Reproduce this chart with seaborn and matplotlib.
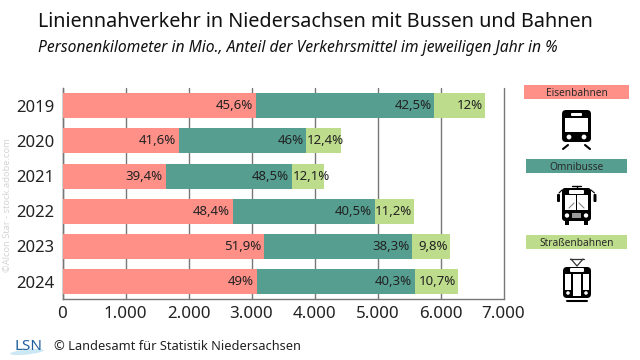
import matplotlib
matplotlib.use("Agg")
import matplotlib.pyplot as plt
import seaborn as sns
from matplotlib.patches import FancyBboxPatch, Rectangle, Circle, Ellipse

years = ["2019", "2020", "2021", "2022", "2023", "2024"]
eisenbahn = [3067, 1849, 1638, 2706, 3194, 3083]
omnibus = [2835, 2021, 2005, 2254, 2354, 2512]
strassenbahn = [804, 551, 503, 624, 603, 683]
pct_eisenbahn = ["45,6%", "41,6%", "39,4%", "48,4%", "51,9%", "49%"]
pct_omnibus = ["42,5%", "46%", "48,5%", "40,5%", "38,3%", "40,3%"]
pct_strassenbahn = ["12%", "12,4%", "12,1%", "11,2%", "9,8%", "10,7%"]
x_ticks = [0, 1000, 2000, 3000, 4000, 5000, 6000, 7000]
x_labels = ["0", "1.000", "2.000", "3.000", "4.000", "5.000", "6.000", "7.000"]

RED = "#FF9088"
TEAL = "#559E90"
GREEN = "#BDDC8C"
GRID = "#777777"
TEXT = "#222222"
LEGEND_TEXT = "#2A2A2A"

sns.set_theme(style="white")
plt.rcParams["font.family"] = "Noto Sans"

fig = plt.figure(figsize=(6.4, 3.6), dpi=100)
ax = fig.add_axes([62.5 / 640, 1 - 299.3 / 360, 441 / 640, 211.3 / 360])

cum_omni = [a + b for a, b in zip(eisenbahn, omnibus)]
cum_all = [a + b for a, b in zip(cum_omni, strassenbahn)]

# stacked look: longest bar first, shorter ones on top
sns.barplot(x=cum_all, y=years, color=GREEN, saturation=1, width=0.71, linewidth=0, ax=ax, zorder=3)
sns.barplot(x=cum_omni, y=years, color=TEAL, saturation=1, width=0.71, linewidth=0, ax=ax, zorder=3)
sns.barplot(x=eisenbahn, y=years, color=RED, saturation=1, width=0.71, linewidth=0, ax=ax, zorder=3)

ax.set_xlim(0, 7000)
ax.set_ylim(5.5, -0.5)
ax.set_xticks(x_ticks, x_labels)
ax.tick_params(axis="x", labelsize=12.2, colors=TEXT, length=0, pad=5)
ax.tick_params(axis="y", labelsize=12.0, colors=TEXT, length=0, pad=5.5)
ax.set_xlabel("")
ax.set_ylabel("")
ax.xaxis.grid(True, color=GRID, linewidth=1, zorder=0, clip_on=False)
ax.set_axisbelow(True)
sns.despine(ax=ax, top=True, right=True)
for s in ["left", "bottom"]:
    ax.spines[s].set_color(GRID)
    ax.spines[s].set_linewidth(1)

for i in range(len(years)):
    ax.annotate(pct_eisenbahn[i], (eisenbahn[i], i), xytext=(-2, 0), textcoords="offset points",
                ha="right", va="center", fontsize=9.5, color=TEXT, zorder=5)
    ax.annotate(pct_omnibus[i], (cum_omni[i], i), xytext=(-2, 0), textcoords="offset points",
                ha="right", va="center", fontsize=9.5, color=TEXT, zorder=5)
    # narrow segments: label starts at the segment edge and may run over
    if strassenbahn[i] < 560:
        ax.annotate(pct_strassenbahn[i], (cum_omni[i], i), xytext=(0.5, 0), textcoords="offset points",
                    ha="left", va="center", fontsize=9.5, color=TEXT, zorder=5)
    else:
        ax.annotate(pct_strassenbahn[i], (cum_all[i], i), xytext=(-1.5, 0), textcoords="offset points",
                    ha="right", va="center", fontsize=9.5, color=TEXT, zorder=5)

# overlay in pixel coordinates for header, legend boxes and icons
ov = fig.add_axes([0, 0, 1, 1], zorder=10)
ov.set_xlim(0, 640)
ov.set_ylim(360, 0)
ov.axis("off")
ov.patch.set_alpha(0)

ov.text(38, 22, "Liniennahverkehr in Niedersachsen mit Bussen und Bahnen",
        fontsize=14.25, color="#111111", va="center", ha="left")
ov.text(38, 48, "Personenkilometer in Mio., Anteil der Verkehrsmittel im jeweiligen Jahr in %",
        fontsize=11.28, style="italic", color="#111111", va="center", ha="left")

for x0, x1, y0, y1, col, label in [
    (524, 629, 85, 99, RED, "Eisenbahnen"),
    (526, 627, 158.5, 173, TEAL, "Omnibusse"),
    (526, 627, 234.5, 249, GREEN, "Straßenbahnen"),
]:
    ov.add_patch(Rectangle((x0, y0), x1 - x0, y1 - y0, facecolor=col, edgecolor="none"))
    ov.text((x0 + x1) / 2, (y0 + y1) / 2 + 0.5, label, fontsize=7.3, color=LEGEND_TEXT,
            ha="center", va="center_baseline")


def rbox(x0, y0, x1, y1, col="black", r=3):
    ov.add_patch(FancyBboxPatch((x0 + r, y0 + r), x1 - x0 - 2 * r, y1 - y0 - 2 * r,
                                boxstyle=f"round,pad={r}", facecolor=col, edgecolor="none"))


# train icon
rbox(562, 110, 591, 142, r=4)
rbox(571, 113, 582, 116, col="white", r=1)
ov.add_patch(Rectangle((565, 118), 23, 14, facecolor="white", edgecolor="none"))
ov.add_patch(Circle((569, 137), 2.4, facecolor="white", edgecolor="none"))
ov.add_patch(Circle((584, 137), 2.4, facecolor="white", edgecolor="none"))
ov.plot([568, 563], [145, 149], color="black", lw=1.5)
ov.plot([585, 590], [145, 149], color="black", lw=1.5)

# bus icon
rbox(562, 188, 591, 221, r=3)
ov.plot([572, 581], [185.5, 185.5], color="black", lw=1)
ov.plot([576.5, 576.5], [185.5, 188], color="black", lw=1)
rbox(569, 190, 584, 194, col="white", r=1)
ov.add_patch(Rectangle((565, 195), 11, 15, facecolor="white", edgecolor="none"))
ov.add_patch(Rectangle((577, 195), 11, 15, facecolor="white", edgecolor="none"))
ov.plot([569, 574], [208, 203], color="#888888", lw=0.8)
ov.plot([579, 584], [203, 208], color="#888888", lw=0.8)
ov.add_patch(Circle((567, 215.5), 2.2, facecolor="white", edgecolor="none"))
ov.add_patch(Circle((586, 215.5), 2.2, facecolor="white", edgecolor="none"))
ov.add_patch(Rectangle((572, 213), 9, 5, facecolor="#999999", edgecolor="none"))
rbox(557, 194, 560, 202, r=1)
rbox(593.5, 194, 596.5, 202, r=1)
ov.plot([559, 562], [193, 190], color="black", lw=0.8)
ov.plot([594.5, 591], [193, 190], color="black", lw=0.8)
ov.add_patch(Rectangle((565, 221), 4, 3.5, facecolor="black", edgecolor="none"))
ov.add_patch(Rectangle((584, 221), 4, 3.5, facecolor="black", edgecolor="none"))

# tram icon
rbox(563, 267, 591, 298, r=4)
ov.plot([570, 584], [259, 259], color="#333333", lw=0.9)
ov.plot([571, 577, 583], [259, 266, 259], color="#333333", lw=0.9)
rbox(570, 268, 584, 272, col="white", r=1)
ov.add_patch(Rectangle((565, 274), 6, 16, facecolor="white", edgecolor="none"))
ov.add_patch(Rectangle((573, 274), 8, 22, facecolor="white", edgecolor="none"))
ov.add_patch(Rectangle((583, 274), 6, 16, facecolor="white", edgecolor="none"))
ov.add_patch(Circle((568, 293), 1.8, facecolor="white", edgecolor="none"))
ov.add_patch(Circle((586, 293), 1.8, facecolor="white", edgecolor="none"))
ov.plot([567, 587], [301, 301], color="black", lw=1.5)

# watermark
ov.text(8, 205.5, "©Alcon Star - stock.adobe.com", fontsize=6.7, color="#D4D4D4",
        rotation=90, ha="center", va="center")

# footer with logo
ov.add_patch(Ellipse((27, 352), 34, 5, angle=-6, facecolor="#CDE8F5", edgecolor="none"))
ov.text(14, 346, "LSN", fontsize=11, color="#1F5F9E", ha="left", va="center")
ov.text(54, 347, "© Landesamt für Statistik Niedersachsen", fontsize=9.25, color="#222222",
        ha="left", va="center")

fig.savefig("out.png", dpi=100)
